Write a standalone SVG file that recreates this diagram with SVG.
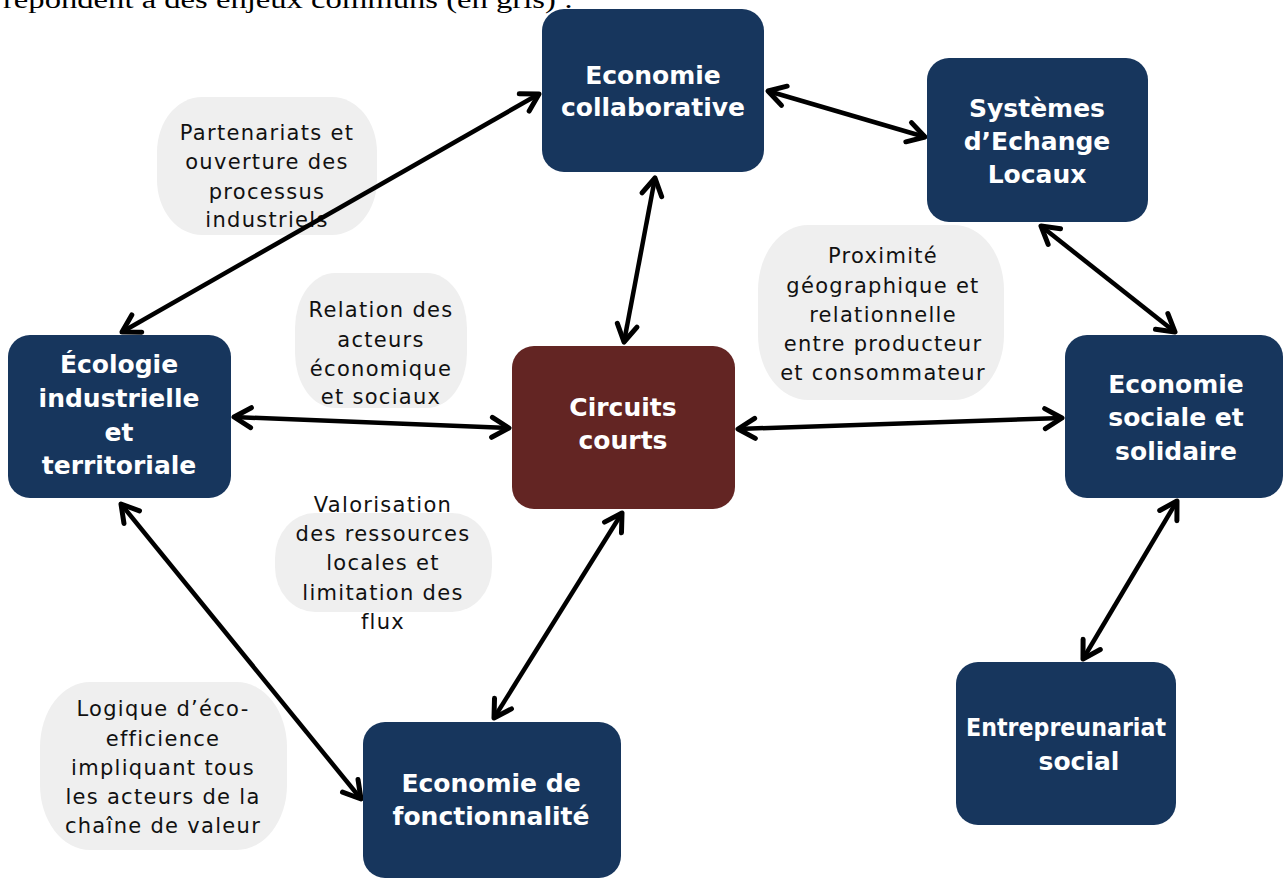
<svg xmlns="http://www.w3.org/2000/svg" width="1283" height="878" viewBox="0 0 1283 878">
<style>
.node{fill:#17365D;}
.hub{fill:#632523;}
.bub{fill:#EFEFEF;}
.nt{font-family:"DejaVu Sans",sans-serif;font-weight:bold;font-size:25px;fill:#FFFFFF;text-anchor:middle;}
.bt{font-family:"DejaVu Sans",sans-serif;font-size:21px;fill:#111111;text-anchor:middle;letter-spacing:1.3px;}
.cap{font-family:"Liberation Serif",serif;font-size:26px;fill:#000000;}
.con{stroke:#000000;stroke-width:4.5;fill:none;marker-start:url(#ah);marker-end:url(#ah);}
</style>
<defs>
<marker id="ah" viewBox="0 0 26 26" refX="22" refY="13" markerWidth="26" markerHeight="26" markerUnits="userSpaceOnUse" orient="auto-start-reverse">
<path d="M5,3 L22,13 L5,23" fill="none" stroke="#000000" stroke-width="5" stroke-linecap="round" stroke-linejoin="round"/>
</marker>
</defs>
<rect width="1283" height="878" fill="#FFFFFF"/>
<text class="cap" x="3" y="8" textLength="570" lengthAdjust="spacingAndGlyphs">répondent à des enjeux communs (en gris) :</text>

<g id="bubbles">
<g id="b-partenariats">
<rect class="bub" x="157" y="97" width="220" height="138" rx="45" ry="55"/>
<text class="bt" x="267" y="140">Partenariats et</text>
<text class="bt" x="267" y="169">ouverture des</text>
<text class="bt" x="267" y="199">processus</text>
<text class="bt" x="267" y="227">industriels</text>
</g>
<g id="b-relation">
<rect class="bub" x="295" y="273" width="172" height="135" rx="40" ry="55"/>
<text class="bt" x="381" y="317">Relation des</text>
<text class="bt" x="381" y="347">acteurs</text>
<text class="bt" x="381" y="376">économique</text>
<text class="bt" x="381" y="404">et sociaux</text>
</g>
<g id="b-proximite">
<rect class="bub" x="758" y="225" width="246" height="175" rx="50" ry="65"/>
<text class="bt" x="883" y="263">Proximité</text>
<text class="bt" x="883" y="293">géographique et</text>
<text class="bt" x="883" y="322">relationnelle</text>
<text class="bt" x="883" y="351">entre producteur</text>
<text class="bt" x="883" y="380">et consommateur</text>
</g>
<g id="b-valorisation">
<rect class="bub" x="275" y="513" width="217" height="99" rx="40" ry="45"/>
<text class="bt" x="383" y="512">Valorisation</text>
<text class="bt" x="383" y="541">des ressources</text>
<text class="bt" x="383" y="570">locales et</text>
<text class="bt" x="383" y="600">limitation des</text>
<text class="bt" x="383" y="629">flux</text>
</g>
<g id="b-logique">
<rect class="bub" x="40" y="682" width="247" height="168" rx="50" ry="65"/>
<text class="bt" x="163" y="716">Logique d’éco-</text>
<text class="bt" x="163" y="746">efficience</text>
<text class="bt" x="163" y="775">impliquant tous</text>
<text class="bt" x="163" y="804">les acteurs de la</text>
<text class="bt" x="163" y="833">chaîne de valeur</text>
</g>
</g>

<g id="connectors">
<line class="con" x1="122" y1="332" x2="539" y2="94"/>
<line class="con" x1="768" y1="91" x2="925" y2="137"/>
<line class="con" x1="655" y1="178" x2="624" y2="342"/>
<line class="con" x1="234" y1="417" x2="509" y2="428"/>
<line class="con" x1="738" y1="429" x2="1062" y2="418"/>
<line class="con" x1="1041" y1="226" x2="1175" y2="332"/>
<line class="con" x1="121" y1="504" x2="361" y2="799"/>
<line class="con" x1="622" y1="513" x2="494" y2="718"/>
<line class="con" x1="1177" y1="501" x2="1083" y2="659"/>
</g>

<g id="n-collab">
<rect class="node" x="542" y="9" width="222" height="163" rx="22"/>
<text class="nt" x="653" y="84">Economie</text>
<text class="nt" x="653" y="116">collaborative</text>
</g>
<g id="n-sel">
<rect class="node" x="927" y="58" width="221" height="164" rx="22"/>
<text class="nt" x="1037" y="117">Systèmes</text>
<text class="nt" x="1037" y="150">d’Echange</text>
<text class="nt" x="1037" y="183">Locaux</text>
</g>
<g id="n-ecologie">
<rect class="node" x="8" y="335" width="223" height="163" rx="22"/>
<text class="nt" x="119" y="373">Écologie</text>
<text class="nt" x="119" y="407">industrielle</text>
<text class="nt" x="119" y="441">et</text>
<text class="nt" x="119" y="474">territoriale</text>
</g>
<g id="n-circuits">
<rect class="hub" x="512" y="346" width="223" height="163" rx="22"/>
<text class="nt" x="623" y="416">Circuits</text>
<text class="nt" x="623" y="449">courts</text>
</g>
<g id="n-ess">
<rect class="node" x="1065" y="335" width="218" height="163" rx="22"/>
<text class="nt" x="1176" y="393">Economie</text>
<text class="nt" x="1176" y="426">sociale et</text>
<text class="nt" x="1176" y="460">solidaire</text>
</g>
<g id="n-entrepreunariat">
<rect class="node" x="956" y="662" width="220" height="163" rx="22"/>
<text class="nt" x="1066" y="736" textLength="200" lengthAdjust="spacingAndGlyphs">Entrepreunariat</text>
<text class="nt" x="1079" y="770">social</text>
</g>
<g id="n-fonctionnalite">
<rect class="node" x="363" y="722" width="258" height="156" rx="22"/>
<text class="nt" x="491" y="792">Economie de</text>
<text class="nt" x="491" y="825">fonctionnalité</text>
</g>
</svg>
